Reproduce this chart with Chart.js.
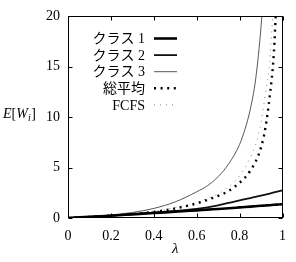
<!DOCTYPE html>
<html>
<head>
<meta charset="utf-8">
<script src="https://cdn.jsdelivr.net/npm/chart.js@4/dist/chart.umd.min.js"></script>
<style>
html,body{margin:0;padding:0;background:#fff;}
#wrap{width:296px;height:262px;}
</style>
</head>
<body>
<div id="wrap"><canvas id="c" width="296" height="262"></canvas></div>
<script>
// ---- data ----
const lambda = [0,0.1,0.2,0.3,0.4,0.5,0.6,0.65,0.7,0.75,0.8,0.825,0.85,0.875,0.9,0.92,0.94,0.96,0.98,1];
const class1 = [0,0.11,0.23,0.36,0.49,0.62,0.76,0.83,0.9,0.97,1.05,1.09,1.13,1.17,1.21,1.24,1.27,1.31,1.34,1.37];
const class2 = [0,0.11,0.24,0.38,0.53,0.7,0.9,1.05,1.25,1.5,1.75,1.87,1.98,2.1,2.22,2.33,2.43,2.53,2.63,2.73];
const class3 = [0,0.13,0.3,0.55,0.95,1.6,2.6,3.2,4.1,5.4,7.3,8.8,10.8,13.8,19,25,null,null,null,null];
const overall = [0,0.11,0.24,0.39,0.6,0.95,1.45,1.8,2.2,2.7,3.5,4.0,4.7,5.6,7.0,8.9,12.0,16.5,26,null];
const fcfs = [0,0.11,0.25,0.43,0.68,1.03,1.55,1.95,2.4,3.1,4.2,5.0,6.0,7.3,9.5,12.3,15.5,22,null,null];
const seriesLabels = ['クラス 1','クラス 2','クラス 3','総平均','FCFS'];
const xTicks = [0,0.2,0.4,0.6,0.8,1];
const yTicks = [0,5,10,15,20];
const xTitle = 'λ';

const pts = arr => lambda.map((x,i)=>({x:x, y:arr[i]}));
const serif = "'Liberation Serif', 'DejaVu Serif', serif";
const legendFont = "'Liberation Serif', 'Noto Sans CJK JP', serif";
Chart.defaults.font.family = serif;
Chart.defaults.font.size = 14;
Chart.defaults.color = '#000';

const styles = [
  {borderColor:'#000', borderWidth:2.6, borderDash:[]},
  {borderColor:'#111', borderWidth:1.8, borderDash:[]},
  {borderColor:'#444', borderWidth:0.9, borderDash:[]},
  {borderColor:'#000', borderWidth:2.4, borderDash:[2,4.6]},
  {borderColor:'#888', borderWidth:1, borderDash:[1,5]}
];
const seriesData = [class1,class2,class3,overall,fcfs];

const datasets = seriesData.map((arr,i)=>Object.assign({
  label: seriesLabels[i],
  data: pts(arr),
  pointRadius: 0,
  fill: false,
  cubicInterpolationMode: 'monotone',
  spanGaps: false
}, styles[i]));

const framePlugin = {
  id:'frame',
  afterDatasetsDraw(chart){
    const ctx = chart.ctx, a = chart.chartArea;
    const xs = chart.scales.x, ys = chart.scales.y;
    ctx.save();
    ctx.strokeStyle = '#000';
    ctx.lineWidth = 1;
    ctx.setLineDash([]);
    const L = Math.round(a.left)+0.5, R = Math.round(a.right)-0.5;
    const T = Math.round(a.top)+0.5, B = Math.round(a.bottom)-0.5;
    ctx.strokeRect(L, T, R-L, B-T);
    const tl = 4;
    ctx.beginPath();
    xTicks.forEach(v=>{
      const px = Math.round(xs.getPixelForValue(v))+0.5;
      ctx.moveTo(px,B); ctx.lineTo(px,B-tl);
      ctx.moveTo(px,T); ctx.lineTo(px,T+tl);
    });
    yTicks.forEach(v=>{
      const py = Math.round(ys.getPixelForValue(v))+0.5;
      ctx.moveTo(L,py); ctx.lineTo(L+tl,py);
      ctx.moveTo(R,py); ctx.lineTo(R-tl,py);
    });
    ctx.stroke();

    // legend
    const textRight = 145, lineL = 154, lineR = 177;
    ctx.font = '14px ' + legendFont;
    ctx.textAlign = 'right';
    ctx.textBaseline = 'middle';
    ctx.fillStyle = '#000';
    chart.data.datasets.forEach((ds,i)=>{
      const y = 38.5 + i*16.6;
      ctx.fillText(ds.label, textRight, y+1);
      ctx.beginPath();
      ctx.strokeStyle = ds.borderColor;
      ctx.lineWidth = ds.borderWidth;
      ctx.setLineDash(ds.borderDash || []);
      ctx.moveTo(lineL, y); ctx.lineTo(lineR, y);
      ctx.stroke();
    });
    ctx.setLineDash([]);

    // y-axis label E[W_i]
    const yl = 113;
    ctx.textAlign = 'left';
    ctx.textBaseline = 'alphabetic';
    ctx.fillStyle = '#000';
    let x = 3;
    const base = yl + 5;
    ctx.font = 'italic 14px ' + serif;
    ctx.fillText('E', x, base); x += ctx.measureText('E').width;
    ctx.font = '14px ' + serif;
    ctx.fillText('[', x, base); x += ctx.measureText('[').width;
    ctx.font = 'italic 14px ' + serif;
    ctx.fillText('W', x, base); x += ctx.measureText('W').width;
    ctx.font = 'italic 10px ' + serif;
    ctx.fillText('i', x, base+3); x += ctx.measureText('i').width + 0.5;
    ctx.font = '14px ' + serif;
    ctx.fillText(']', x, base);
    ctx.restore();
  }
};

new Chart(document.getElementById('c'), {
  type:'line',
  data:{datasets},
  options:{
    responsive:false,
    animation:false,
    devicePixelRatio:1,
    layout:{padding:{top:8,right:7,left:0,bottom:0}},
    plugins:{legend:{display:false}, tooltip:{enabled:false}},
    scales:{
      x:{
        type:'linear', min:0, max:1,
        grid:{display:false, drawTicks:false},
        border:{display:false},
        afterBuildTicks:s=>{s.ticks = xTicks.map(v=>({value:v}));},
        afterFit:s=>{s.height = 44;},
        ticks:{color:'#000', padding:10, maxRotation:0, autoSkip:false,
               font:{family:serif, size:14},
               callback:v=>String(Math.round(v*10)/10)},
        title:{display:true, text:xTitle, color:'#000',
               font:{family:serif, size:15, style:'italic'}, padding:{top:0,bottom:4}}
      },
      y:{
        type:'linear', min:0, max:20,
        grid:{display:false, drawTicks:false},
        border:{display:false},
        afterBuildTicks:s=>{s.ticks = yTicks.map(v=>({value:v}));},
        afterFit:s=>{s.width = 68;},
        ticks:{color:'#000', padding:8, autoSkip:false,
               font:{family:serif, size:14}}
      }
    }
  },
  plugins:[framePlugin]
});
</script>
</body>
</html>
